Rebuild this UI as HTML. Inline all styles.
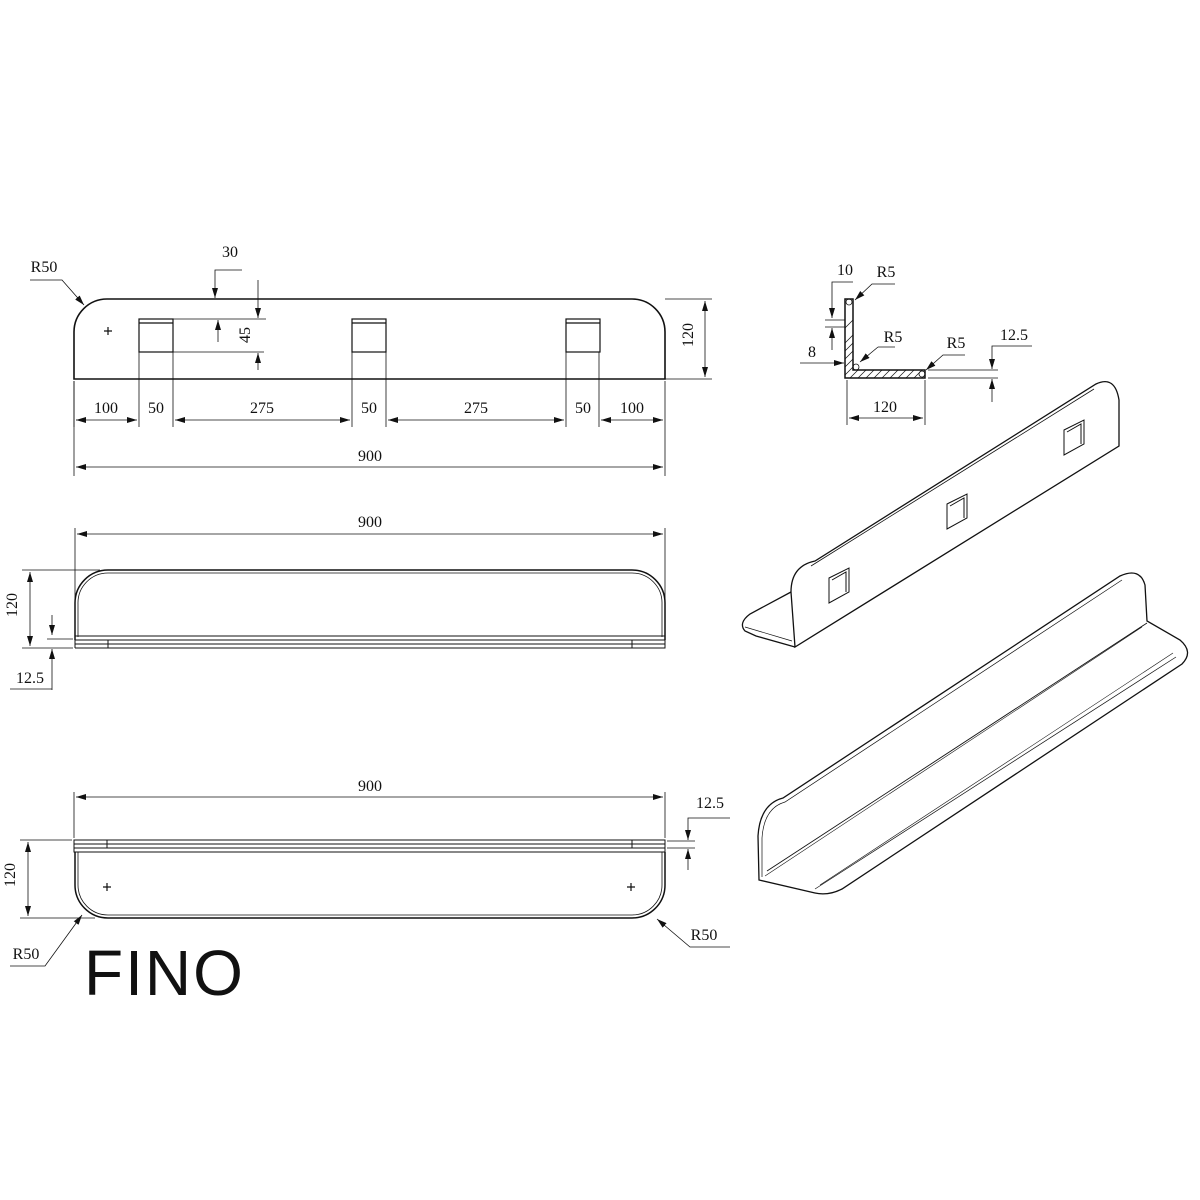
<!DOCTYPE html>
<html><head><meta charset="utf-8"><style>
html,body{margin:0;padding:0;background:#fff;}
svg{display:block;}
text{font-family:"Liberation Serif",serif;font-size:16px;fill:#111;}
</style></head><body>
<svg width="1200" height="1200" viewBox="0 0 1200 1200" xmlns="http://www.w3.org/2000/svg">
<defs>
<marker id="a" viewBox="0 0 10 6" refX="10" refY="3" markerWidth="10" markerHeight="6" orient="auto-start-reverse" markerUnits="userSpaceOnUse"><path d="M0,0 L10,3 L0,6 Z" fill="#111"/></marker>
<clipPath id="prof"><path d="M845,299 L853,299 L853,370 L925,370 L925,378 L845,378 Z"/></clipPath>
</defs>
<g fill="none" stroke="#111" stroke-width="1.2">
<!-- VIEW 1 -->
<path d="M74,379 L74,332 A33,33 0 0 1 107,299 L632,299 A33,33 0 0 1 665,332 L665,379 Z" stroke-width="1.6"/>
<path d="M104,331 h8 M108,327 v8"/>
<rect x="139" y="319" width="34" height="33"/><path d="M139,323 h34"/>
<rect x="352" y="319" width="34" height="33"/><path d="M352,323 h34"/>
<rect x="566" y="319" width="34" height="33"/><path d="M566,323 h34"/>
<path d="M665,299 h47 M665,379 h47" stroke-width="0.8"/>
<path d="M705,301 V377" marker-start="url(#a)" marker-end="url(#a)" stroke-width="0.8"/>
<path d="M74,381 v46 M139,352 v75 M173,352 v75 M352,352 v75 M386,352 v75 M566,352 v75 M599,352 v75 M665,381 v95" stroke-width="0.8"/>
<path d="M74,381 v95" stroke-width="0.8"/>
<g stroke-width="0.8">
<path d="M76,420 H137" marker-end="url(#a)"/><path d="M76,420 h1" marker-start="url(#a)"/>
<path d="M175,420 H350" marker-start="url(#a)" marker-end="url(#a)"/>
<path d="M388,420 H564" marker-start="url(#a)" marker-end="url(#a)"/>
<path d="M601,420 H663" marker-start="url(#a)" marker-end="url(#a)"/>
<path d="M76,467 H663" marker-start="url(#a)" marker-end="url(#a)"/>
<path d="M242,270 H215 V298" marker-end="url(#a)"/>
<path d="M173,319 H266 M173,352 H264"/>
<path d="M258,280 V318" marker-end="url(#a)"/>
<path d="M258,370 V353" marker-end="url(#a)"/>
<path d="M218,342 V320" marker-end="url(#a)"/>
<path d="M30,280 H62 L84,305" marker-end="url(#a)"/>
</g>
<!-- PROFILE -->
<path d="M845,299 L853,299 L853,370 L925,370 L925,378 L845,378 Z" stroke-width="1.5"/>
<g clip-path="url(#prof)" stroke-width="0.7">
<path d="M830,390 L930,290 M838,390 L938,290 M846,390 L946,290 M854,390 L954,290 M862,390 L962,290 M870,390 L970,290 M878,390 L978,290 M886,390 L986,290 M894,390 L994,290 M902,390 L1002,290 M910,390 L1010,290 M918,390 L1018,290 M926,390 L1026,290 M838,350 L870,318 M838,335 L870,303 M822,390 L922,290 M814,390 L914,290 M806,390 L906,290"/>
</g>
<circle cx="849" cy="302" r="3" stroke-width="0.8"/><circle cx="856" cy="367" r="3" stroke-width="0.8"/><circle cx="922" cy="374" r="3" stroke-width="0.8"/>
<g stroke-width="0.8">
<path d="M847,380 v45 M925,380 v45"/>
<path d="M849,418 H923" marker-start="url(#a)" marker-end="url(#a)"/>
<path d="M853,282 H832 V318" marker-end="url(#a)"/>
<path d="M825,320 H845 M825,327 H845"/>
<path d="M832,350 V328" marker-end="url(#a)"/>
<path d="M800,363 H844" marker-end="url(#a)"/>
<path d="M895,284 H872 L855,300" marker-end="url(#a)"/>
<path d="M878,347 L860,362" marker-end="url(#a)"/>
<path d="M878,347 H895"/>
<path d="M965,355 H943 L926,370" marker-end="url(#a)"/>
<path d="M928,370 H998 M928,378 H998"/>
<path d="M1032,346 H992 V369" marker-end="url(#a)"/>
<path d="M992,402 V379" marker-end="url(#a)"/>
</g>
<!-- VIEW 2 -->
<path d="M75,640 L75,603 A33,33 0 0 1 108,570 L632,570 A33,33 0 0 1 665,603 L665,640" stroke-width="1.5"/>
<path d="M78,637 L78,604 A30,30 0 0 1 108,573 L632,573 A30,30 0 0 1 662,604 L662,637" stroke-width="0.8"/>
<path d="M75,636 H665 M75,640 H665 M75,644 H665 M75,648 H665 V636 M75,648 V636 M108,640 V648 M632,640 V648" stroke-width="1"/>
<g stroke-width="0.8">
<path d="M75,528 V636 M665,528 V636"/>
<path d="M77,534 H663" marker-start="url(#a)" marker-end="url(#a)"/>
<path d="M22,570 H100 M22,648 H73"/>
<path d="M30,572 V646" marker-start="url(#a)" marker-end="url(#a)"/>
<path d="M52,615 V635" marker-end="url(#a)"/>
<path d="M47,639 H73"/>
<path d="M52,690 V649" marker-end="url(#a)"/>
<path d="M10,689 H52"/>
</g>
<!-- VIEW 3 -->
<path d="M74,840 H665 V852 H74 Z M74,844 H665 M74,848 H665 M107,840 V848 M632,840 V848" stroke-width="1"/>
<path d="M75,852 L75,885 A33,33 0 0 0 108,918 L632,918 A33,33 0 0 0 665,885 L665,852" stroke-width="1.5"/>
<path d="M78,852 L78,885 A30,30 0 0 0 108,915 L632,915 A30,30 0 0 0 662,885 L662,852" stroke-width="0.8"/>
<path d="M103,887 h8 M107,883 v8 M627,887 h8 M631,883 v8"/>
<g stroke-width="0.8">
<path d="M74,792 V838 M665,792 V838"/>
<path d="M76,797 H663" marker-start="url(#a)" marker-end="url(#a)"/>
<path d="M20,840 H72 M20,918 H95"/>
<path d="M28,842 V916" marker-start="url(#a)" marker-end="url(#a)"/>
<path d="M730,818 H688 V840" marker-end="url(#a)"/>
<path d="M667,841 H695 M667,848 H695"/>
<path d="M688,870 V849" marker-end="url(#a)"/>
<path d="M10,966 H45 L82,915" marker-end="url(#a)"/>
<path d="M730,947 H690 L657,919" marker-end="url(#a)"/>
</g>
<!-- ISO 1 -->
<g stroke-width="1.3">
<path d="M795,647 L791,592 Q791,566 815,561 L1096,384 Q1115,375 1119,400 L1119,446 Z"/>
<path d="M811,566 L1094,389" stroke-width="0.8"/>
<path d="M791,592 L750,614 Q738,623 745,631 L756,636 L795,647"/>
<path d="M745,627 L792,641" stroke-width="0.7"/>
<path d="M829,578 L849,568 L849,592 L829,603 Z M832,580 L846,572 L846,592" stroke-width="1"/>
<path d="M947,504 L967,494 L967,518 L947,529 Z M950,506 L964,498 L964,518" stroke-width="1"/>
<path d="M1064,430 L1084,420 L1084,444 L1064,455 Z M1067,432 L1081,424 L1081,444" stroke-width="1"/>
</g>
<!-- ISO 2 -->
<g stroke-width="1.3">
<path d="M759,880 L758,836 Q760,804 783,798 L1120,576 Q1140,567 1145,585 L1147,621 L1180,640 Q1194,652 1182,664 L842,889 Q828,896 815,893 L759,880 Z"/>
<path d="M762,877 L762,838 Q764,808 785,802 L1122,580" stroke-width="0.7"/>
<path d="M767,871 L1147,623" stroke-width="0.9"/>
<path d="M765,876 L1142,627" stroke-width="0.6"/>
<path d="M815,889 L1176,657" stroke-width="0.7"/>
<path d="M820,885 L1173,653" stroke-width="0.6"/>
</g>
</g>
<!-- TEXT -->
<text x="44" y="272" text-anchor="middle">R50</text>
<text x="230" y="257" text-anchor="middle">30</text>
<text x="250" y="335" text-anchor="middle" transform="rotate(-90 250 335)">45</text>
<text x="698" y="340" text-anchor="middle" transform="rotate(-90 693 340)">120</text>
<text x="106" y="413" text-anchor="middle">100</text>
<text x="156" y="413" text-anchor="middle">50</text>
<text x="262" y="413" text-anchor="middle">275</text>
<text x="369" y="413" text-anchor="middle">50</text>
<text x="476" y="413" text-anchor="middle">275</text>
<text x="583" y="413" text-anchor="middle">50</text>
<text x="632" y="413" text-anchor="middle">100</text>
<text x="370" y="461" text-anchor="middle">900</text>
<text x="845" y="275" text-anchor="middle">10</text>
<text x="886" y="277" text-anchor="middle">R5</text>
<text x="812" y="357" text-anchor="middle">8</text>
<text x="893" y="342" text-anchor="middle">R5</text>
<text x="956" y="348" text-anchor="middle">R5</text>
<text x="1014" y="340" text-anchor="middle">12.5</text>
<text x="885" y="412" text-anchor="middle">120</text>
<text x="370" y="527" text-anchor="middle">900</text>
<text x="22" y="610" text-anchor="middle" transform="rotate(-90 17 610)">120</text>
<text x="30" y="683" text-anchor="middle">12.5</text>
<text x="370" y="791" text-anchor="middle">900</text>
<text x="710" y="808" text-anchor="middle">12.5</text>
<text x="20" y="880" text-anchor="middle" transform="rotate(-90 15 880)">120</text>
<text x="26" y="959" text-anchor="middle">R50</text>
<text x="704" y="940" text-anchor="middle">R50</text>
<text x="84" y="995" style="font-family:'Liberation Sans',sans-serif;font-size:64px;font-weight:normal;letter-spacing:2px" fill="#111">FINO</text>
</svg>
</body></html>
